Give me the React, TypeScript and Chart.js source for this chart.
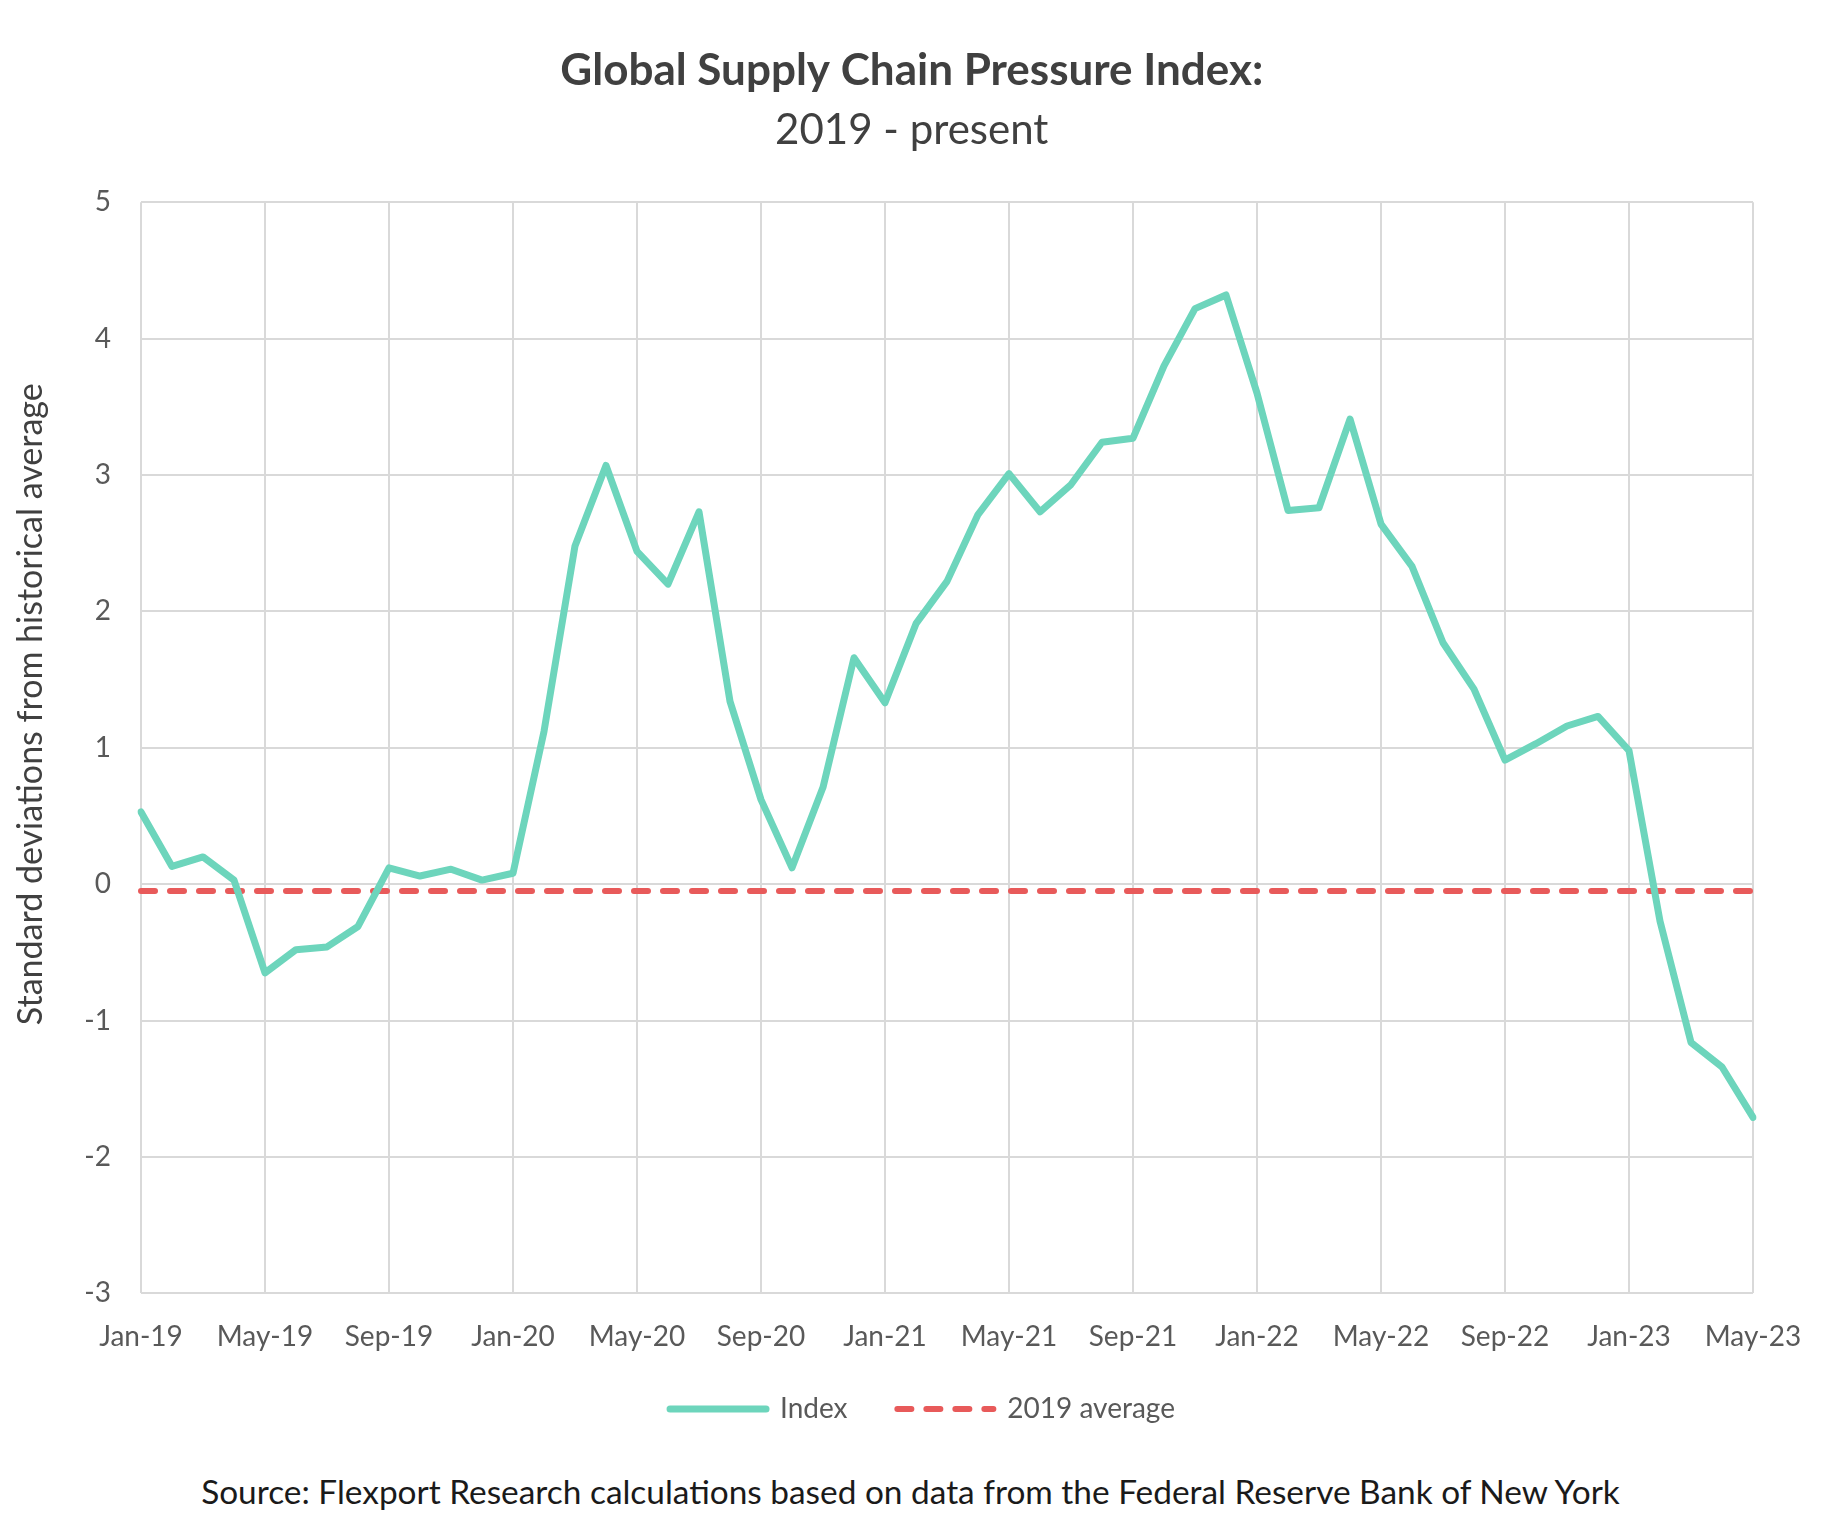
import React, { useEffect, useRef } from "react";
import Chart from "chart.js/auto";

// monthly categories, Jan 2019 .. May 2023
const MONTHS = [
  "Jan-19", "Feb-19", "Mar-19", "Apr-19", "May-19", "Jun-19", "Jul-19", "Aug-19", "Sep-19", "Oct-19", "Nov-19", "Dec-19",
  "Jan-20", "Feb-20", "Mar-20", "Apr-20", "May-20", "Jun-20", "Jul-20", "Aug-20", "Sep-20", "Oct-20", "Nov-20", "Dec-20",
  "Jan-21", "Feb-21", "Mar-21", "Apr-21", "May-21", "Jun-21", "Jul-21", "Aug-21", "Sep-21", "Oct-21", "Nov-21", "Dec-21",
  "Jan-22", "Feb-22", "Mar-22", "Apr-22", "May-22", "Jun-22", "Jul-22", "Aug-22", "Sep-22", "Oct-22", "Nov-22", "Dec-22",
  "Jan-23", "Feb-23", "Mar-23", "Apr-23", "May-23"
];

const INDEX_VALUES = [
  0.53, 0.13, 0.2, 0.03, -0.65, -0.48, -0.46, -0.31, 0.12, 0.06, 0.11, 0.03,
  0.08, 1.12, 2.48, 3.07, 2.44, 2.2, 2.73, 1.34, 0.62, 0.12, 0.71, 1.66,
  1.33, 1.91, 2.22, 2.71, 3.01, 2.73, 2.93, 3.24, 3.27, 3.8, 4.22, 4.32,
  3.6, 2.74, 2.76, 3.41, 2.64, 2.33, 1.77, 1.43, 0.91, 1.03, 1.16, 1.23,
  0.98, -0.27, -1.16, -1.34, -1.71
];

const AVG_2019 = -0.05;

const X_TICK_LABELS = [
  "Jan-19", "May-19", "Sep-19", "Jan-20", "May-20", "Sep-20", "Jan-21",
  "May-21", "Sep-21", "Jan-22", "May-22", "Sep-22", "Jan-23", "May-23"
];

const FONT = "Lato";
const AVG_DASH = [14, 15];

const SupplyChainChart: React.FC = () => {
  const chartRef = useRef<HTMLCanvasElement>(null);
  const chartInstance = useRef<Chart>();

  useEffect(() => {
    if (!chartRef.current) return;
    const ctx = chartRef.current.getContext("2d");
    if (!ctx) return;
    if (chartInstance.current) chartInstance.current.destroy();

    Chart.defaults.font.family = FONT;
    Chart.defaults.color = "#595959";

    chartInstance.current = new Chart(ctx, {
      type: "line",
      data: {
        labels: MONTHS,
        datasets: [
          {
            label: "Index",
            data: INDEX_VALUES,
            borderColor: "#6dd5bc",
            backgroundColor: "#6dd5bc",
            borderWidth: 7,
            pointRadius: 0,
            tension: 0,
            borderJoinStyle: "round",
            borderCapStyle: "round"
          },
          {
            label: "2019 average",
            data: [
              { x: MONTHS[0], y: AVG_2019 },
              { x: MONTHS[MONTHS.length - 1], y: AVG_2019 }
            ],
            borderColor: "#e85a5a",
            backgroundColor: "#e85a5a",
            borderWidth: 6,
            borderDash: AVG_DASH,
            borderCapStyle: "round",
            pointRadius: 0
          }
        ]
      },
      options: {
        animation: false,
        responsive: true,
        maintainAspectRatio: false,
        layout: { padding: { top: 0, right: 0, bottom: 27, left: 0 } },
        plugins: {
          title: {
            display: true,
            // trailing spaces nudge the centred title slightly left
            text: "Global Supply Chain Pressure Index:  ",
            color: "#404040",
            font: { size: 44, weight: "bold" },
            padding: { top: 44, bottom: 8 }
          },
          subtitle: {
            display: true,
            text: "2019 - present  ",
            color: "#404040",
            font: { size: 42 },
            padding: { top: 0, bottom: 47 }
          },
          legend: {
            position: "bottom",
            labels: {
              usePointStyle: true,
              pointStyle: "line",
              pointStyleWidth: 96,
              boxHeight: 28,
              padding: 14,
              color: "#595959",
              font: { size: 28 },
              // keep the dash pattern in the legend and widen the gap after "Index"
              generateLabels: (chart) =>
                Chart.defaults.plugins.legend.labels.generateLabels(chart).map((item) => {
                  const ds: any = chart.data.datasets[item.datasetIndex as number];
                  return {
                    ...item,
                    text: item.datasetIndex === 0 ? item.text + "     " : item.text,
                    strokeStyle: ds.borderColor,
                    lineWidth: ds.borderWidth,
                    lineDash: ds.borderDash || [],
                    lineCap: "round"
                  };
                })
            }
          },
          tooltip: { enabled: false }
        },
        scales: {
          x: {
            offset: false,
            grid: { color: "#d9d9d9", lineWidth: 2, drawTicks: false },
            border: { display: false },
            ticks: {
              autoSkip: false,
              maxRotation: 0,
              padding: 27,
              font: { size: 28 },
              callback: function (value) {
                const label = this.getLabelForValue(value as number);
                return X_TICK_LABELS.includes(label) ? label : null;
              }
            },
            afterFit: (scale: any) => {
              scale.paddingRight = 92;
            }
          },
          y: {
            min: -3,
            max: 5,
            grid: { color: "#d9d9d9", lineWidth: 2, drawTicks: false },
            border: { display: false },
            ticks: { stepSize: 1, padding: 30, font: { size: 28 } },
            title: {
              display: true,
              // leading spaces lift the text a little above the axis centre, as in the original
              text: "          Standard deviations from historical average",
              color: "#404040",
              font: { size: 34 },
              padding: { top: 11, bottom: 0 }
            },
            afterFit: (scale) => {
              scale.width = 141;
            }
          }
        }
      }
    });

    return () => {
      if (chartInstance.current) {
        chartInstance.current.destroy();
        chartInstance.current = undefined;
      }
    };
  }, []);

  return <canvas ref={chartRef} />;
};

export default function App() {
  return (
    <div style={{ position: "fixed", left: 0, top: 0, width: 1845, height: 1530, background: "#fff" }}>
      <div style={{ position: "absolute", left: 0, top: 0, width: 1845, height: 1460 }}>
        <SupplyChainChart />
      </div>
      <div
        style={{
          position: "absolute",
          left: 0,
          top: 1471,
          width: 1821,
          textAlign: "center",
          fontFamily: FONT,
          fontSize: 33.4,
          lineHeight: "40px",
          color: "#1a1a1a"
        }}
      >
        Source: Flexport Research calculations based on data from the Federal Reserve Bank of New York
      </div>
    </div>
  );
}
